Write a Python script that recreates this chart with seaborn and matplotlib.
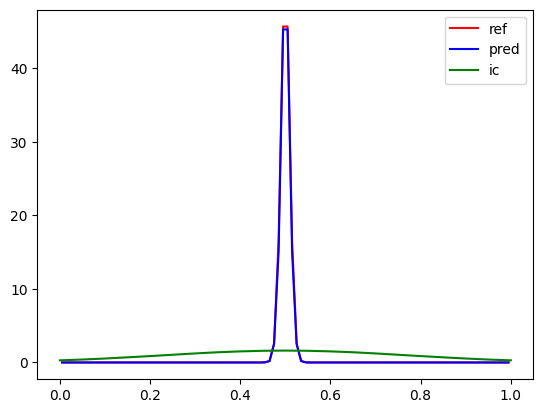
import numpy as np
import seaborn as sns
from matplotlib import pyplot as plt

# grid for ref / pred (cell centres); flat zero away from the peak
x_peak = [0.005, 0.445, 0.455, 0.465, 0.475, 0.485, 0.495, 0.505, 0.515, 0.525, 0.535, 0.545, 0.555, 0.995]
ref_vals = [0.0, 0.0, 0.02, 0.2, 2.6, 16.5, 45.7, 45.7, 16.5, 2.6, 0.2, 0.02, 0.0, 0.0]
pred_vals = [0.0, 0.0, 0.02, 0.2, 2.5, 15.0, 45.3, 45.3, 15.0, 2.5, 0.2, 0.02, 0.0, 0.0]

# initial condition
x_ic = [0.0, 0.05, 0.1, 0.15, 0.2, 0.25, 0.3, 0.35, 0.4, 0.45, 0.5,
        0.55, 0.6, 0.65, 0.7, 0.75, 0.8, 0.85, 0.9, 0.95, 1.0]
ic_vals = [0.29, 0.40, 0.54, 0.70, 0.87, 1.05, 1.23, 1.39, 1.51, 1.59, 1.62,
           1.59, 1.51, 1.39, 1.23, 1.05, 0.87, 0.70, 0.54, 0.40, 0.29]

fig, ax = plt.subplots(figsize=(6.4, 4.8), dpi=100)
sns.lineplot(x=x_peak, y=ref_vals, color='red', label='ref', ax=ax)
sns.lineplot(x=x_peak, y=pred_vals, color='blue', label='pred', ax=ax)
sns.lineplot(x=x_ic, y=ic_vals, color='green', label='ic', ax=ax)
ax.legend(loc='upper right')
plt.savefig('out.png', bbox_inches='tight')
